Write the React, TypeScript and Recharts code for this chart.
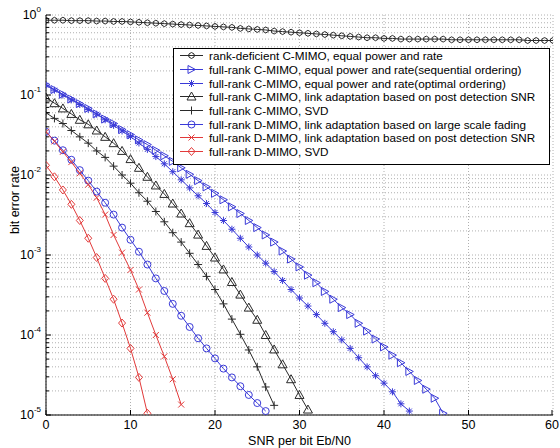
import { CartesianGrid, Label, Legend, Line, LineChart, XAxis, YAxis } from "recharts";

// bit error rate per SNR step of 1 dB, starting at 0 dB
const rankDeficient = [
  0.86, 0.86, 0.86, 0.85, 0.85, 0.85, 0.84, 0.84, 0.83, 0.83,
  0.82, 0.81, 0.8, 0.79, 0.78, 0.77, 0.76, 0.75, 0.74, 0.73,
  0.72, 0.71, 0.7, 0.68, 0.67, 0.66, 0.65, 0.63, 0.62, 0.61,
  0.6, 0.59, 0.58, 0.57, 0.56, 0.55, 0.54, 0.53, 0.52, 0.52,
  0.51, 0.51, 0.5, 0.5, 0.5, 0.5, 0.5, 0.5, 0.49, 0.49,
  0.49, 0.49, 0.49, 0.49, 0.49, 0.49, 0.49, 0.48, 0.48, 0.48, 0.48
];
const seqOrdering = [
  0.135, 0.117, 0.102, 0.089, 0.078, 0.068, 0.058, 0.05, 0.044, 0.037,
  0.032, 0.0275, 0.024, 0.0204, 0.0174, 0.0148, 0.0123, 0.0102, 0.0085, 0.0071,
  0.0059, 0.0049, 0.004, 0.0033, 0.0027, 0.0022, 0.00178, 0.00145, 0.00112, 0.00089,
  0.00071, 0.00056, 0.00045, 0.00035, 0.00028, 0.00022, 0.00018, 0.00014, 0.000112, 0.000089,
  0.000071, 0.000056, 0.000045, 0.000035, 0.000027, 0.000021, 0.0000162, 0.0000105
];
const optOrdering = [
  0.132, 0.115, 0.1, 0.087, 0.076, 0.066, 0.0575, 0.049, 0.0417, 0.0355,
  0.0302, 0.0251, 0.0209, 0.017, 0.0138, 0.011, 0.0087, 0.0069, 0.0055, 0.0044,
  0.0034, 0.0027, 0.0021, 0.00162, 0.00126, 0.001, 0.00079, 0.00062, 0.00048, 0.00037,
  0.00029, 0.00023, 0.00018, 0.00014, 0.00011, 0.000087, 0.000068, 0.000052, 0.00004, 0.000031,
  0.000025, 0.0000195, 0.0000138, 0.0000112
];
const cLinkAdapt = [
  0.093, 0.079, 0.068, 0.058, 0.049, 0.043, 0.036, 0.03, 0.025, 0.02,
  0.0158, 0.0123, 0.0095, 0.0074, 0.0058, 0.0044, 0.0033, 0.0025, 0.0018, 0.0013,
  0.00093, 0.00066, 0.00046, 0.00032, 0.00022, 0.000155, 0.0001, 0.000066, 0.000043, 0.000028,
  0.0000178, 0.0000117
];
const cSvd = [
  0.06, 0.051, 0.044, 0.036, 0.03, 0.025, 0.02, 0.0166, 0.0129, 0.01,
  0.0079, 0.006, 0.0047, 0.0035, 0.0026, 0.0019, 0.00145, 0.00105, 0.00076, 0.00054,
  0.00037, 0.000245, 0.000158, 0.000102, 0.000065, 0.00004, 0.0000224, 0.0000132
];
const dLargeScale = [
  0.0347, 0.0269, 0.0204, 0.0155, 0.0115, 0.0085, 0.0062, 0.0045, 0.0032, 0.0022,
  0.00155, 0.0011, 0.00076, 0.00051, 0.000355, 0.000245, 0.000174, 0.000126, 0.000091, 0.000068,
  0.000051, 0.000038, 0.0000295, 0.0000229, 0.0000178, 0.0000141, 0.0000112
];
const dLinkAdapt = [
  0.0347, 0.0263, 0.0195, 0.0145, 0.0105, 0.0076, 0.0052, 0.0032, 0.00178, 0.00107,
  0.00065, 0.00037, 0.00019, 0.0001, 0.000054, 0.000028, 0.0000135
];
const dSvd = [
  0.0132, 0.0095, 0.0065, 0.0043, 0.0027, 0.00162, 0.00093, 0.00051, 0.00028, 0.000141,
  0.000068, 0.0000295, 0.0000105
];

const seriesNames = [
  "rank-deficient C-MIMO, equal power and rate",
  "full-rank C-MIMO, equal power and rate(sequential ordering)",
  "full-rank C-MIMO, equal power and rate(optimal ordering)",
  "full-rank C-MIMO, link adaptation based on post detection SNR",
  "full-rank C-MIMO, SVD",
  "full-rank D-MIMO, link adaptation based on large scale fading",
  "full-rank D-MIMO, link adaptation based on post detection SNR",
  "full-rank D-MIMO, SVD"
];

const xTicks = [0, 10, 20, 30, 40, 50, 60];
const yMajorTicks = [1e-5, 1e-4, 1e-3, 1e-2, 1e-1, 1];
const yExponents = ["-5", "-4", "-3", "-2", "-1", "0"];

// minor ticks 2..9 inside every decade (grid lines, like matlab)
const yTicks = yMajorTicks.flatMap((m, i) =>
  i === yMajorTicks.length - 1 ? [m] : [1, 2, 3, 4, 5, 6, 7, 8, 9].map((k) => k * m)
);

const BLACK = "#2a2a2a";
const BLUE = "#3a3ad8";
const RED = "#e23a3a";
const FONT = "'Liberation Sans', Arial, sans-serif";

type Shape = "hex" | "triRight" | "star" | "triUp" | "plus" | "circle" | "cross" | "diamond";

const series: { id: string; values: number[]; color: string; shape: Shape }[] = [
  { id: "rd", values: rankDeficient, color: BLACK, shape: "hex" },
  { id: "seq", values: seqOrdering, color: BLUE, shape: "triRight" },
  { id: "opt", values: optOrdering, color: BLUE, shape: "star" },
  { id: "cla", values: cLinkAdapt, color: BLACK, shape: "triUp" },
  { id: "csvd", values: cSvd, color: BLACK, shape: "plus" },
  { id: "dls", values: dLargeScale, color: BLUE, shape: "circle" },
  { id: "dla", values: dLinkAdapt, color: RED, shape: "cross" },
  { id: "dsvd", values: dSvd, color: RED, shape: "diamond" }
];

const toPoints = (vals: number[]) => vals.map((ber, snr) => ({ snr, ber }));

function Marker({ shape, cx, cy, color }: { shape: Shape; cx: number; cy: number; color: string }) {
  const p = { fill: "none", stroke: color, strokeWidth: 1 };
  switch (shape) {
    case "hex": {
      const pts = [0, 1, 2, 3, 4, 5]
        .map((k) => {
          const a = (Math.PI / 3) * k + Math.PI / 6;
          return `${cx + 3 * Math.cos(a)},${cy + 3 * Math.sin(a)}`;
        })
        .join(" ");
      return <polygon points={pts} {...p} />;
    }
    case "triRight":
      return <polygon points={`${cx - 3.5},${cy - 4} ${cx + 4},${cy} ${cx - 3.5},${cy + 4}`} {...p} />;
    case "triUp":
      return <polygon points={`${cx},${cy - 4.5} ${cx + 4.5},${cy + 3.5} ${cx - 4.5},${cy + 3.5}`} {...p} />;
    case "star":
      return (
        <path
          d={`M${cx - 3.5},${cy}H${cx + 3.5}M${cx},${cy - 3.5}V${cy + 3.5}M${cx - 2.5},${cy - 2.5}L${cx + 2.5},${cy + 2.5}M${cx - 2.5},${cy + 2.5}L${cx + 2.5},${cy - 2.5}`}
          {...p}
        />
      );
    case "plus":
      return <path d={`M${cx - 4},${cy}H${cx + 4}M${cx},${cy - 4}V${cy + 4}`} {...p} />;
    case "circle":
      return <circle cx={cx} cy={cy} r={3.5} {...p} />;
    case "cross":
      return <path d={`M${cx - 3},${cy - 3}L${cx + 3},${cy + 3}M${cx - 3},${cy + 3}L${cx + 3},${cy - 3}`} {...p} />;
    case "diamond":
      return <polygon points={`${cx},${cy - 4} ${cx + 3.5},${cy} ${cx},${cy + 4} ${cx - 3.5},${cy}`} {...p} />;
  }
}

function LegendBox() {
  return (
    <div
      style={{
        border: "1px solid #000",
        background: "#fff",
        boxSizing: "border-box",
        height: 117,
        fontFamily: FONT,
        fontSize: 11.7,
        color: "#000"
      }}
    >
      {series.map((s, i) => (
        <div key={s.id} style={{ display: "flex", alignItems: "center", height: 13.7, whiteSpace: "nowrap" }}>
          <svg width={35} height={13} style={{ flex: "none" }}>
            <line x1={6} x2={29} y1={6.5} y2={6.5} stroke={s.color} strokeWidth={1} />
            <Marker shape={s.shape} cx={17.5} cy={6.5} color={s.color} />
          </svg>
          <span>{seriesNames[i]}</span>
        </div>
      ))}
    </div>
  );
}

const YTickLeft = (props: any) => {
  const { x, y, payload } = props;
  const idx = yMajorTicks.indexOf(payload.value);
  const len = idx >= 0 ? 5 : 3;
  return (
    <g>
      <line x1={x + 4} x2={x + 4 + len} y1={y} y2={y} stroke="#000" />
      {idx >= 0 && (
        <text x={x - 1} y={y} textAnchor="end" fontFamily={FONT} fontSize={12.5} fill="#000">
          <tspan dy={4}>10</tspan>
          <tspan dy={-7} fontSize={8}>{yExponents[idx]}</tspan>
        </text>
      )}
    </g>
  );
};

const YTickRight = (props: any) => {
  const { x, y, payload } = props;
  const len = yMajorTicks.indexOf(payload.value) >= 0 ? 5 : 3;
  return <line x1={x - 4} x2={x - 4 - len} y1={y} y2={y} stroke="#000" />;
};

const XTickBottom = (props: any) => {
  const { x, y, payload } = props;
  return (
    <g>
      <line x1={x} x2={x} y1={y - 4} y2={y - 9} stroke="#000" />
      <text x={x} y={y + 1} dy="0.71em" textAnchor="middle" fontFamily={FONT} fontSize={12.5} fill="#000">
        {payload.value}
      </text>
    </g>
  );
};

const XTickTop = (props: any) => {
  const { x, y } = props;
  return <line x1={x} x2={x} y1={y + 4} y2={y + 9} stroke="#000" />;
};

export default function App() {
  return (
    <div style={{ position: "absolute", left: 0, top: 0, width: 560, height: 448, background: "#fff" }}>
      <LineChart width={560} height={448} margin={{ top: 15, right: 7, bottom: 0, left: 0 }}>
        <CartesianGrid stroke="#b0b0b0" strokeDasharray="1 2" />
        <XAxis
          dataKey="snr"
          type="number"
          domain={[0, 60]}
          ticks={xTicks}
          allowDataOverflow
          height={33}
          stroke="#000"
          tickLine={false}
          tickSize={0}
          tickMargin={4}
          tick={XTickBottom}
        >
          <Label
            content={(props: any) => {
              const vb = props.viewBox;
              return (
                <text x={vb.x + vb.width / 2} y={vb.y + vb.height - 3} textAnchor="middle" fontFamily={FONT} fontSize={12.5} fill="#000">
                  SNR per bit Eb/N0
                </text>
              );
            }}
          />
        </XAxis>
        <XAxis
          xAxisId="top"
          orientation="top"
          dataKey="snr"
          type="number"
          domain={[0, 60]}
          ticks={xTicks}
          allowDataOverflow
          height={0}
          stroke="#000"
          tickLine={false}
          tickSize={0}
          tickMargin={4}
          tick={XTickTop}
        />
        <YAxis
          dataKey="ber"
          type="number"
          scale="log"
          domain={[1e-5, 1]}
          ticks={yTicks}
          allowDataOverflow
          width={46}
          stroke="#000"
          tickLine={false}
          tickSize={0}
          tickMargin={4}
          tick={YTickLeft}
          interval={0}
        >
          <Label
            content={(props: any) => {
              const vb = props.viewBox;
              const cx = vb.x + 15;
              const cy = vb.y + vb.height / 2 - 15;
              return (
                <text x={cx} y={cy} transform={`rotate(-90, ${cx}, ${cy})`} textAnchor="middle" dominantBaseline="central" fontFamily={FONT} fontSize={12.5} fill="#000">
                  bit error rate
                </text>
              );
            }}
          />
        </YAxis>
        <YAxis
          yAxisId="right"
          orientation="right"
          dataKey="ber"
          type="number"
          scale="log"
          domain={[1e-5, 1]}
          ticks={yTicks}
          allowDataOverflow
          width={0}
          stroke="#000"
          tickLine={false}
          tickSize={0}
          tickMargin={4}
          tick={YTickRight}
          interval={0}
        />
        {series.map((s, i) => (
          <Line
            key={s.id}
            name={seriesNames[i]}
            data={toPoints(s.values)}
            dataKey="ber"
            type="linear"
            stroke={s.color}
            strokeWidth={1}
            isAnimationActive={false}
            activeDot={false}
            dot={(props: any) =>
              props.cx == null ? (
                <g key={`${s.id}-${props.index}`} />
              ) : (
                <Marker key={`${s.id}-${props.index}`} shape={s.shape} cx={props.cx} cy={props.cy} color={s.color} />
              )
            }
          />
        ))}
        <Legend
          layout="vertical"
          align="center"
          verticalAlign="middle"
          wrapperStyle={{ left: 173, top: 48, width: 377 }}
          content={() => <LegendBox />}
        />
      </LineChart>
    </div>
  );
}
